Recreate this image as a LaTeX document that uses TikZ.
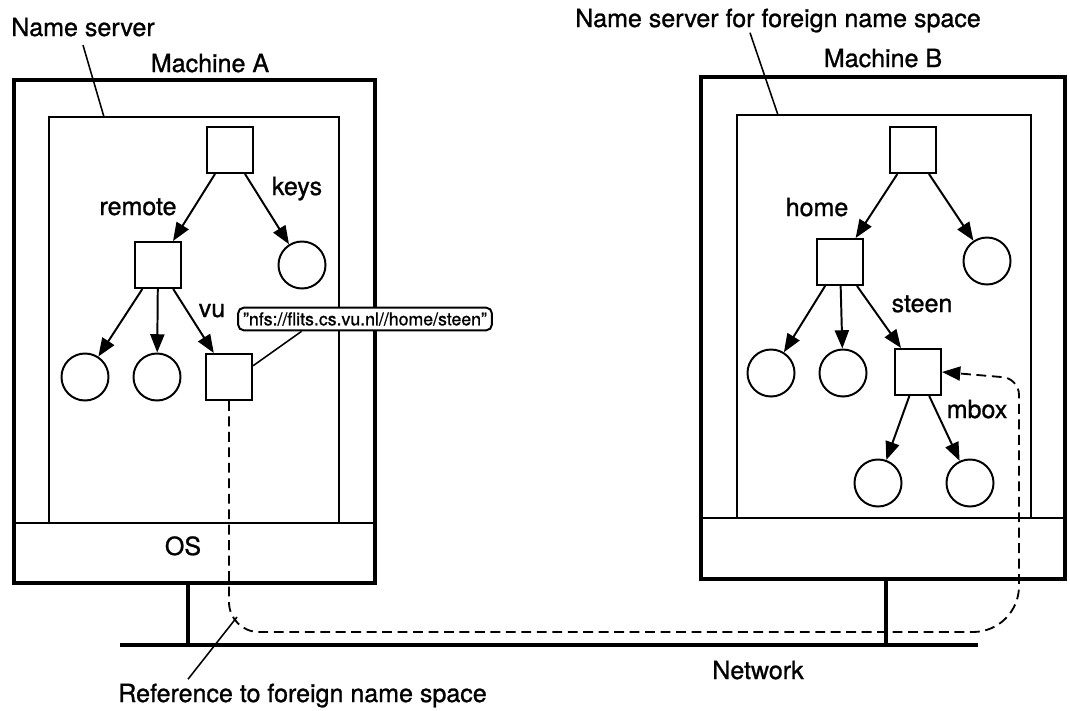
\documentclass[tikz,border=0pt]{standalone}
\usepackage{fontspec}
\setmainfont{TeX Gyre Heros}[FakeBold=1]
\usetikzlibrary{arrows.meta}

\tikzset{
  dirnode/.style={rectangle, draw, line width=1.4pt, minimum size=1.15cm, inner sep=0pt},
  filenode/.style={circle, draw, line width=1.4pt, minimum size=1.175cm, inner sep=0pt},
  treearrow/.style={line width=1.4pt, -{Triangle[length=13pt, width=10pt]}},
  lbl/.style={anchor=base, inner sep=0pt, font=\fontsize{17.8}{21}\selectfont},
  leader/.style={line width=1.1pt},
  machine/.style={line width=2.2pt},
  nsbox/.style={line width=1.4pt},
  wire/.style={line width=3pt},
  refline/.style={line width=1.3pt, dash pattern=on 7pt off 4pt, -{Triangle[length=13pt, width=10pt]}}
}

\begin{document}
\begin{tikzpicture}[x=0.025cm, y=-0.025cm]
\useasboundingbox (0,0) rectangle (1070,710);

% Machine A
\draw[machine] (14,80) rectangle (375,583);
\draw[nsbox] (49,117) rectangle (339,523);
\draw[nsbox] (14,523) -- (375,523);
\node[lbl] (osA) at (183,555) {OS};
\node[lbl] (machA) at (210,72) {Machine A};
\node[lbl] (nsA) at (83,36) {Name server};
\coordinate (nsAtop) at (104,117);
\draw[leader] ([yshift=-6pt]nsA.south) -- (nsAtop);

\node[dirnode] (rootA) at (230,150) {};
\node[dirnode] (remote) at (158,265) {};
\node[filenode] (keys) at (302,265) {};
\node[filenode] (fileA1) at (85,377) {};
\node[filenode] (fileA2) at (157,377) {};
\node[dirnode] (vu) at (229,377) {};
\draw[treearrow] (rootA) -- (remote);
\draw[treearrow] (rootA) -- (keys);
\draw[treearrow] (remote) -- (fileA1);
\draw[treearrow] (remote) -- (fileA2);
\draw[treearrow] (remote) -- (vu);
\node[lbl] (lremote) at (138,215) {remote};
\node[lbl] (lkeys) at (297,195) {keys};
\node[lbl] (lvu) at (212,317) {vu};

\node[draw, line width=1.4pt, rounded corners=4pt, fill=white, inner xsep=3.5pt,
      minimum height=0.55cm, font=\fontsize{12.6}{15}\selectfont] (nfs) at (365,319)
      {\symbol{34}nfs://flits.cs.vu.nl//home/steen\symbol{34}};
\draw[leader] (vu.25) -- (nfs.191);

% Machine B
\draw[machine] (701,77) rectangle (1065,579);
\draw[nsbox] (737,115) rectangle (1031,518);
\draw[nsbox] (701,518) -- (1065,518);
\node[lbl] (machB) at (883,67) {Machine B};
\node[lbl] (nsB) at (778,27) {Name server for foreign name space};
\coordinate (nsBtop) at (778,115);
\draw[leader] ([xshift=-0.7cm]nsB.south) -- (nsBtop);

\node[dirnode] (rootB) at (913,150) {};
\node[dirnode] (home) at (840,262) {};
\node[filenode] (fileB0) at (987,261) {};
\node[filenode] (fileB1) at (771,373) {};
\node[filenode] (fileB2) at (843,373) {};
\node[dirnode] (steen) at (918,372) {};
\node[filenode] (fileB3) at (878,483) {};
\node[filenode] (fileB4) at (970,483) {};
\draw[treearrow] (rootB) -- (home);
\draw[treearrow] (rootB) -- (fileB0);
\draw[treearrow] (home) -- (fileB1);
\draw[treearrow] (home) -- (fileB2);
\draw[treearrow] (home) -- (steen);
\draw[treearrow] (steen) -- (fileB3);
\draw[treearrow] (steen) -- (fileB4);
\node[lbl] (lhome) at (817,216) {home};
\node[lbl] (lsteen) at (922,312) {steen};
\node[lbl] (lmbox) at (977,418) {mbox};

% Network
\coordinate (netL) at (120,645);
\coordinate (netR) at (978,645);
\coordinate (tapA) at (188,645);
\coordinate (tapB) at (886,645);
\draw[wire] (netL) -- (netR);
\draw[wire] (188,583) -- (tapA);
\draw[wire] (886,579) -- (tapB);
\node[lbl] (lnet) at (758,679) {Network};

\draw[refline] (vu.south) -- (229,602) .. controls (229,618.6) and (242.4,632) .. (259,632)
  -- (973,632) .. controls (998.4,632) and (1019,611.4) .. (1019,586)
  -- (1019,395) .. controls (1019,385.1) and (1010.9,377) .. (1001,377) -- (steen.east);

\node[lbl, anchor=base west] (lref) at (118,702) {Reference to foreign name space};
\coordinate (refpt) at (237,617);
\draw[leader] (refpt) -- ([xshift=1.75cm, yshift=3pt]lref.north west);
\end{tikzpicture}
\end{document}
